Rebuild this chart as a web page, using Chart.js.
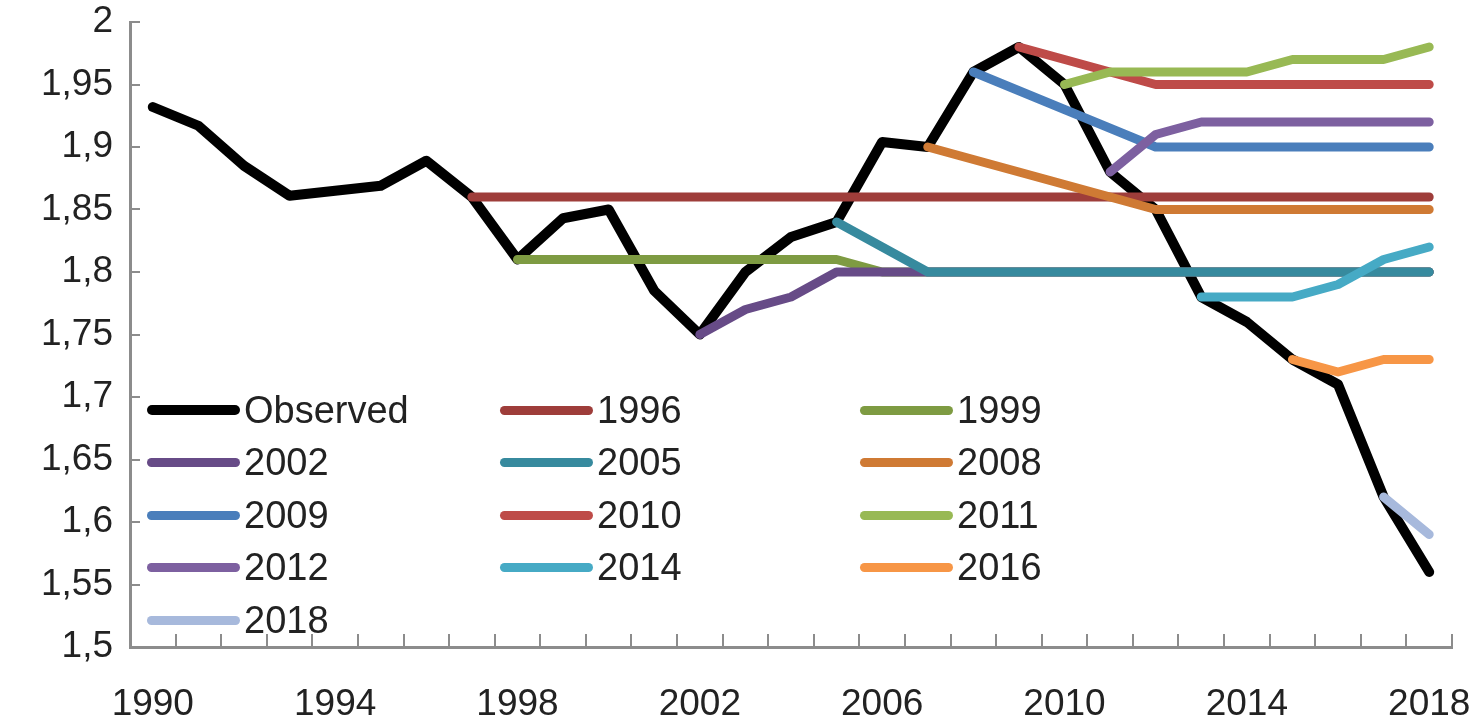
<!DOCTYPE html>
<html>
<head>
<meta charset="utf-8">
<script src="https://cdn.jsdelivr.net/npm/chart.js@4.4.1/dist/chart.umd.min.js"></script>
<style>
  body { margin: 0; background: #fff; }
  #wrap { position: relative; width: 1484px; height: 721px; }
  #legend {
    position: absolute; left: 147px; top: 384px;
    display: grid; grid-template-columns: 353px 360px 320px;
    font: 38px 'Liberation Sans', Arial, sans-serif; color: #222;
  }
  .item { height: 52.5px; display: flex; align-items: center; }
  .swatch { width: 93px; height: 9px; border-radius: 5px; margin-right: 4px; }
</style>
</head>
<body>
<div id="wrap">
  <canvas id="chart" width="1484" height="721"></canvas>
  <div id="legend"></div>
</div>
<script>
const years = ['1990', '1991', '1992', '1993', '1994', '1995', '1996', '1997', '1998', '1999',
  '2000', '2001', '2002', '2003', '2004', '2005', '2006', '2007', '2008', '2009',
  '2010', '2011', '2012', '2013', '2014', '2015', '2016', '2017', '2018'];

const observed = [1.932, 1.917, 1.885, 1.861, 1.865, 1.869, 1.889, 1.86, 1.81, 1.843,
  1.85, 1.785, 1.75, 1.80, 1.828, 1.84, 1.904, 1.90, 1.96, 1.98,
  1.95, 1.88, 1.85, 1.78, 1.76, 1.73, 1.71, 1.62, 1.56];

// forecasts: each starts at the year given in forecastStarts
const forecastNames = ['1996', '1999', '2002', '2005', '2008', '2009', '2010', '2011', '2012', '2014', '2016', '2018'];
const forecastStarts = ['1997', '1998', '2002', '2005', '2007', '2008', '2009', '2010', '2011', '2013', '2015', '2017'];
const fc1996 = [1.86, 1.86, 1.86, 1.86, 1.86, 1.86, 1.86, 1.86, 1.86, 1.86, 1.86,
  1.86, 1.86, 1.86, 1.86, 1.86, 1.86, 1.86, 1.86, 1.86, 1.86, 1.86];
const fc1999 = [1.81, 1.81, 1.81, 1.81, 1.81, 1.81, 1.81, 1.81, 1.80, 1.80, 1.80,
  1.80, 1.80, 1.80, 1.80, 1.80, 1.80, 1.80, 1.80, 1.80, 1.80];
const fc2002 = [1.75, 1.77, 1.78, 1.80, 1.80, 1.80, 1.80, 1.80, 1.80, 1.80, 1.80,
  1.80, 1.80, 1.80, 1.80, 1.80, 1.80];
const fc2005 = [1.84, 1.82, 1.80, 1.80, 1.80, 1.80, 1.80, 1.80, 1.80, 1.80, 1.80, 1.80, 1.80, 1.80];
const fc2008 = [1.90, 1.89, 1.88, 1.87, 1.86, 1.85, 1.85, 1.85, 1.85, 1.85, 1.85, 1.85];
const fc2009 = [1.96, 1.945, 1.93, 1.915, 1.90, 1.90, 1.90, 1.90, 1.90, 1.90, 1.90];
const fc2010 = [1.98, 1.97, 1.96, 1.95, 1.95, 1.95, 1.95, 1.95, 1.95, 1.95];
const fc2011 = [1.95, 1.96, 1.96, 1.96, 1.96, 1.97, 1.97, 1.97, 1.98];
const fc2012 = [1.88, 1.91, 1.92, 1.92, 1.92, 1.92, 1.92, 1.92];
const fc2014 = [1.78, 1.78, 1.78, 1.79, 1.81, 1.82];
const fc2016 = [1.73, 1.72, 1.73, 1.73];
const fc2018 = [1.62, 1.59];
const forecasts = [fc1996, fc1999, fc2002, fc2005, fc2008, fc2009, fc2010, fc2011, fc2012, fc2014, fc2016, fc2018];

const colors = ['#000000', '#9e3d3a', '#7e9b42', '#674b87', '#378a9e', '#cf7a34',
  '#4a7ebb', '#be4b48', '#98b954', '#7d60a0', '#46aac5', '#f79646', '#a7b9dc'];

const fontFamily = "'Liberation Sans', Arial, sans-serif";

// pad each forecast with nulls up to its start year
function fullSeries(start, values) {
  const idx = years.indexOf(start);
  return years.map((y, i) => (i >= idx && i - idx < values.length) ? values[i - idx] : null);
}

const allNames = ['Observed'].concat(forecastNames);
const allData = [observed].concat(forecasts.map((f, i) => fullSeries(forecastStarts[i], f)));

const datasets = allData.map((d, i) => ({
  label: allNames[i],
  data: d,
  borderColor: colors[i],
  backgroundColor: colors[i],
  borderWidth: i === 0 ? 10 : 9,
  borderCapStyle: 'round',
  borderJoinStyle: 'round',
  pointRadius: 0,
  fill: false,
  tension: 0,
  order: allData.length - i
}));

new Chart(document.getElementById('chart'), {
  type: 'line',
  data: { labels: years, datasets: datasets },
  options: {
    responsive: false,
    animation: false,
    layout: { padding: { left: 0, right: 32, top: 22, bottom: 0 } },
    plugins: { legend: { display: false }, tooltip: { enabled: false } },
    scales: {
      x: {
        type: 'category',
        offset: true,
        afterFit: s => { s.height = 74; s.paddingLeft = 0; s.paddingRight = 0; },
        grid: { offset: true, drawOnChartArea: false, tickLength: -13, color: '#8c8c8c', lineWidth: 2 },
        border: { color: '#8c8c8c', width: 3 },
        ticks: {
          autoSkip: false, maxRotation: 0, padding: 49,
          color: '#222', font: { family: fontFamily, size: 37 },
          callback: (v, i) => (i % 4 === 0 ? years[i] : '')
        }
      },
      y: {
        min: 1.5, max: 2,
        afterFit: s => { s.width = 130; s.paddingTop = 0; s.paddingBottom = 0; },
        grid: { drawOnChartArea: false, tickLength: -10, color: '#8c8c8c', lineWidth: 2 },
        border: { color: '#8c8c8c', width: 3 },
        ticks: {
          stepSize: 0.05, padding: 27,
          color: '#222', font: { family: fontFamily, size: 37 },
          callback: v => parseFloat(v.toFixed(2)).toString().replace('.', ',')
        }
      }
    }
  }
});

// legend laid out in three columns inside the plot, like the original
const legend = document.getElementById('legend');
allNames.forEach((name, i) => {
  const item = document.createElement('div');
  item.className = 'item';
  const sw = document.createElement('span');
  sw.className = 'swatch';
  sw.style.background = colors[i];
  if (i === 0) sw.style.height = '10px';
  const txt = document.createElement('span');
  txt.textContent = name;
  item.appendChild(sw);
  item.appendChild(txt);
  legend.appendChild(item);
});
</script>
</body>
</html>
